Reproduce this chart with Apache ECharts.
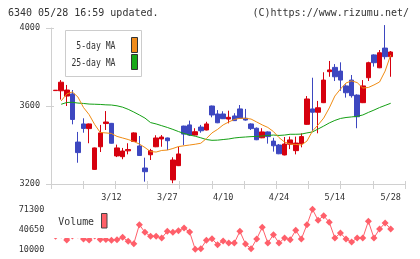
<!DOCTYPE html>
<html><head><meta charset="utf-8">
<script src="https://cdn.jsdelivr.net/npm/echarts@6/dist/echarts.min.js"></script>
<style>html,body{margin:0;padding:0;background:#fff}#c{width:420px;height:259px}</style>
</head><body><div id="c"></div>
<script>
const dates = ['2/26','2/27','3/2','3/3','3/4','3/5','3/6','3/9','3/10','3/11','3/12','3/13','3/16','3/17','3/18','3/19','3/23','3/24','3/25','3/26','3/27','3/30','3/31','4/1','4/2','4/3','4/6','4/7','4/8','4/9','4/10','4/13','4/14','4/15','4/16','4/17','4/20','4/21','4/22','4/23','4/24','4/27','4/28','4/30','5/1','5/7','5/8','5/11','5/12','5/13','5/14','5/15','5/18','5/19','5/20','5/21','5/22','5/25','5/26','5/27','5/28'];
const tickLabels = ['3/12','3/27','4/10','4/24','5/14','5/28'];
// [open, close, low, high]
const ohlc = [
[3679,3681,3679,3681],[3678,3722,3633,3733],[3651,3682,3600,3708],[3662,3531,3506,3682],[3415,3361,3309,3467],
[3508,3485,3463,3537],[3484,3508,3409,3510],[3275,3385,3273,3387],[3391,3462,3364,3503],[3510,3518,3477,3574],
[3511,3409,3407,3513],[3344,3385,3338,3402],[3340,3369,3327,3385],[3370,3377,3352,3409],[3418,3462,3415,3465],
[3395,3346,3344,3446],[3282,3263,3212,3335],[3350,3371,3323,3380],[3391,3436,3389,3450],[3431,3441,3391,3451],
[3436,3422,3374,3438],[3221,3323,3204,3337],[3294,3354,3292,3391],[3497,3456,3400,3499],[3503,3451,3446,3525],
[3451,3468,3449,3486],[3492,3473,3463,3503],[3477,3508,3475,3519],[3600,3554,3542,3602],[3559,3514,3512,3579],
[3559,3535,3533,3573],[3533,3542,3511,3576],[3549,3525,3523,3563],[3585,3537,3535,3605],[3537,3528,3525,3585],
[3508,3484,3477,3511],[3486,3427,3425,3490],[3437,3467,3435,3486],[3467,3443,3407,3470],[3420,3396,3366,3437],
[3400,3355,3353,3405],[3349,3405,3347,3441],[3404,3426,3379,3443],[3371,3410,3352,3443],[3407,3443,3388,3460],
[3506,3636,3504,3651],[3585,3568,3472,3745],[3568,3591,3460,3626],[3617,3733,3615,3773],[3776,3785,3750,3831],
[3798,3750,3728,3815],[3779,3733,3678,3824],[3703,3668,3643,3711],[3733,3653,3643,3759],[3656,3545,3486,3660],
[3617,3703,3615,3733],[3745,3822,3728,3827],[3862,3822,3802,3865],[3796,3873,3794,3887],[3897,3853,3839,4015],
[3853,3877,3750,3882]
];
const ma5 = ['-',3626,3662,3672,3646,3592,3556,3505,3464,3462,3459,3444,3436,3428,3418,3405,3387,3366,3364,3372,3374,3382,3392,3396,3400,3404,3409,3433,3462,3480,3503,3518,3531,3537,3537,3533,3518,3503,3490,3469,3438,3415,3405,3403,3400,3420,3472,3503,3538,3590,3651,3687,3718,3729,3720,3692,3695,3708,3723,3779,3862];
const ma25 = ['-',3609,3618,3619,3615,3613,3610,3609,3608,3606,3605,3601,3594,3583,3569,3554,3538,3515,3508,3499,3490,3480,3469,3459,3451,3445,3437,3428,3424,3425,3428,3431,3436,3439,3441,3443,3444,3446,3449,3451,3449,3451,3455,3455,3456,3462,3467,3482,3497,3513,3526,3536,3541,3544,3547,3554,3567,3579,3592,3603,3614];
const volume = [30000,31900,24250,30400,31900,25800,24250,30400,25000,25000,23800,24700,28400,22260,18600,47700,36050,29900,29900,27300,37600,36050,38500,42640,36500,10000,10900,23800,26200,17050,22700,19650,19650,37600,18100,10900,25800,43700,19650,32400,19650,27300,24700,39100,25800,47700,71300,54400,61500,51400,27300,35000,25800,21200,27300,27300,52900,27300,41100,50300,41100];
const priceAxis = {min:3200, max:4000, interval:400};
const volAxis = {min:10000, max:71300, interval:30650};

const AX = '#d0d0d0', TXT = '#333', MONO = 'DejaVu Sans Mono';
const gL = 52.8, gW = 340.7;
const plain = v => String(v);
const chart = echarts.init(document.getElementById('c'), null, {renderer:'canvas'});
chart.setOption({
  animation:false,
  backgroundColor:'#fff',
  grid:[
    {left:51, top:28, width:354, height:156},
    {left:gL, top:28, width:gW, height:156},
    {left:gL, top:209.3, width:gW, height:40}
  ],
  xAxis:[
    {type:'value', gridIndex:0, min:0, max:11, interval:1, position:'bottom',
     axisLine:{show:true, lineStyle:{color:AX}}, axisTick:{show:true, length:5, lineStyle:{color:AX}},
     axisLabel:{show:false}, splitLine:{show:false}},
    {type:'value', gridIndex:0, min:0, max:11, interval:1, position:'bottom',
     axisLine:{show:false}, axisTick:{show:true, inside:true, length:3, lineStyle:{color:AX}},
     axisLabel:{show:false}, splitLine:{show:false}},
    {type:'category', gridIndex:1, data:dates, boundaryGap:true,
     axisLine:{show:false}, axisTick:{show:false}, splitLine:{show:false},
     axisLabel:{interval:(i,v)=>tickLabels.includes(v), margin:9, fontFamily:MONO, fontSize:8.5, color:TXT}},
    {type:'category', gridIndex:2, data:dates, boundaryGap:true, show:false}
  ],
  yAxis:[
    {type:'value', gridIndex:0, min:priceAxis.min, max:priceAxis.max, interval:priceAxis.interval, position:'left',
     axisLine:{show:true, lineStyle:{color:AX}}, axisTick:{show:true, length:5, lineStyle:{color:AX}},
     axisLabel:{margin:11, fontFamily:MONO, fontSize:8.5, color:TXT, formatter:plain}, splitLine:{show:false}},
    {type:'value', gridIndex:0, min:priceAxis.min, max:priceAxis.max, interval:priceAxis.interval, position:'left',
     axisLine:{show:false}, axisTick:{show:true, inside:true, length:3, lineStyle:{color:AX}},
     axisLabel:{show:false}, splitLine:{show:false}},
    {type:'value', gridIndex:1, min:priceAxis.min, max:priceAxis.max, show:false},
    {type:'value', gridIndex:2, min:volAxis.min, max:volAxis.max, interval:volAxis.interval,
     axisLine:{show:false}, axisTick:{show:false}, splitLine:{show:false},
     axisLabel:{margin:8.5, fontFamily:MONO, fontSize:8.5, color:TXT, formatter:plain}}
  ],
  series:[
    {type:'candlestick', xAxisIndex:2, yAxisIndex:2, data:ohlc, barWidth:5, clip:false,
     itemStyle:{color:'#d6000e', color0:'#3d47c0', borderColor:'#d6000e', borderColor0:'#3d47c0', borderWidth:1}},
    {type:'line', xAxisIndex:2, yAxisIndex:2, data:ma25, symbol:'none', z:3,
     lineStyle:{color:'#14a014', width:1}},
    {type:'line', xAxisIndex:2, yAxisIndex:2, data:ma5, symbol:'none', z:4,
     lineStyle:{color:'#f08c14', width:1}},
    {type:'line', xAxisIndex:3, yAxisIndex:3, data:volume, symbol:'diamond', symbolSize:7, showAllSymbol:true,
     itemStyle:{color:'#ff5f6a'}, lineStyle:{color:'#ff5f6a', width:1}}
  ],
  graphic:[
    {type:'text', x:8, y:13, z:100, style:{text:'6340 05/28 16:59 updated.', font:'10px "DejaVu Sans Mono"', fill:TXT, align:'left', verticalAlign:'middle'}},
    {type:'text', x:409, y:13, z:100, style:{text:'(C)https://www.rizumu.net/', font:'10px "DejaVu Sans Mono"', fill:TXT, align:'right', verticalAlign:'middle'}},
    {type:'rect', z:100, shape:{x:65.5, y:30.5, width:76, height:46}, style:{fill:'#fff', stroke:'#cccccc', lineWidth:1}},
    {type:'text', x:115.5, y:46.3, z:101, scaleX:0.74, style:{text:'5-day MA', font:'11px "DejaVu Sans Mono"', fill:TXT, align:'right', verticalAlign:'middle'}},
    {type:'text', x:115.5, y:62.7, z:101, scaleX:0.74, style:{text:'25-day MA', font:'11px "DejaVu Sans Mono"', fill:TXT, align:'right', verticalAlign:'middle'}},
    {type:'rect', z:101, shape:{x:131.5, y:37.5, width:6, height:15}, style:{fill:'#f08c1c', stroke:'#333', lineWidth:1}},
    {type:'rect', z:101, shape:{x:131.5, y:54.5, width:6, height:15}, style:{fill:'#18a818', stroke:'#333', lineWidth:1}},
    {type:'rect', z:100, shape:{x:52, y:205, width:57.5, height:33}, style:{fill:'#fff'}},
    {type:'text', x:58.3, y:222.5, z:101, scaleX:0.9, style:{text:'Volume', font:'11px "DejaVu Sans Mono"', fill:TXT, align:'left', verticalAlign:'middle'}},
    {type:'rect', z:101, shape:{x:101.5, y:213.5, width:5.5, height:14.5}, style:{fill:'#ff6068', stroke:'#444', lineWidth:1}}
  ]
});
</script></body></html>
